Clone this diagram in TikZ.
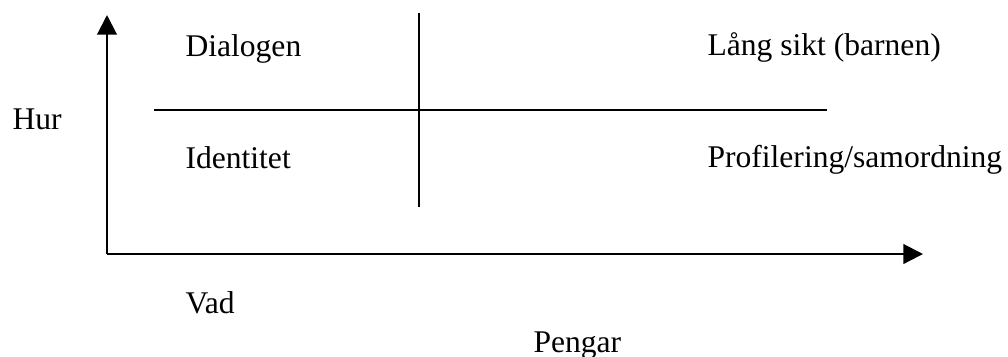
\documentclass[tikz,border=0pt]{standalone}
\usepackage{fontspec}
\setmainfont{Liberation Serif}
\usetikzlibrary{arrows.meta, positioning, calc}

\begin{document}
\begin{tikzpicture}[
  x=0.38pt, y=-0.38pt,
  label/.style={anchor=base west, inner sep=0pt, font=\fontsize{12pt}{14pt}\selectfont},
  axis/.style={-{Triangle[length=7.5pt, width=7.5pt]}, line width=0.8pt},
  split/.style={line width=0.8pt}]

  \useasboundingbox (0,0) rectangle (1008,356);

  % Axes
  \coordinate (origin) at (107,254);
  \coordinate (ytip) at (107,15);
  \coordinate (xtip) at (923,254);
  \draw[axis] (origin) -- (ytip);
  \draw[axis] (origin) -- (xtip);

  % Quadrant split
  \coordinate (hleft) at (154,110);
  \coordinate (hright) at (827,110);
  \coordinate (vtop) at (419,13);
  \coordinate (vbot) at (419,207);
  \draw[split] (hleft) -- (hright);
  \draw[split] (vtop) -- (vbot);

  \node[label] (dialog) at (185,56) {Dialogen};
  \node[label] (lang) at (707,55) {Lång sikt (barnen)};
  \node[label] (ident) at (185,168) {Identitet};
  \node[label] (profil) at (707,167) {Profilering/samordning};
  \node[label] (hur) at (12,129) {Hur};
  \node[label] (vad) at (185,313) {Vad};
  \node[label] (pengar) at (533,352) {Pengar};
\end{tikzpicture}
\end{document}
